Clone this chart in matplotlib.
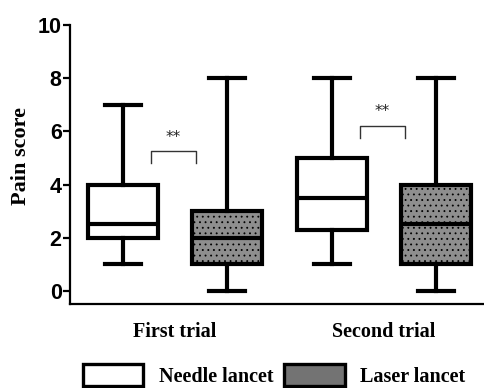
import matplotlib
matplotlib.use("Agg")
import matplotlib.pyplot as plt
from matplotlib.patches import Patch

# Data (box statistics)
groups = ["First trial", "Second trial"]
series = ["Needle lancet", "Laser lancet"]
whislo = [1, 0, 1, 0]
q1 = [2, 1, 2.3, 1]
med = [2.5, 2, 3.5, 2.5]
q3 = [4, 3, 5, 4]
whishi = [7, 8, 8, 8]
positions = [1, 2, 3, 4]
sig_pairs = [(1, 2), (3, 4)]
sig_levels = [5.25, 6.2]
sig_text = ["**", "**"]
yticks = [0, 2, 4, 6, 8, 10]

plt.rcParams['hatch.linewidth'] = 0.6

fig = plt.figure(figsize=(4.85, 3.88), dpi=100)
ax = fig.add_axes([70/485, (388-304)/388, 415/485, (304-25)/388])

stats = []
for i in range(4):
    stats.append(dict(whislo=whislo[i], q1=q1[i], med=med[i], q3=q3[i], whishi=whishi[i], fliers=[]))

lw = 3.0
bp = ax.bxp(stats, positions=positions, widths=0.67, showfliers=False, patch_artist=True,
            boxprops=dict(linewidth=lw, edgecolor='black'),
            medianprops=dict(linewidth=lw, color='black'),
            whiskerprops=dict(linewidth=lw, color='black'),
            capprops=dict(linewidth=lw, color='black'),
            capwidths=0.345)
for i, b in enumerate(bp['boxes']):
    if i % 2 == 0:
        b.set_facecolor('white')
    else:
        b.set_facecolor('#8e8e8e')
        b.set_hatch('...')
        b.set_edgecolor('black')

# significance brackets
for (a, b), lvl, t in zip(sig_pairs, sig_levels, sig_text):
    x0 = a + 0.27
    x1 = b - 0.3
    ax.plot([x0, x0, x1, x1], [lvl - 0.45, lvl, lvl, lvl - 0.45], color='#333333', lw=1.0)
    ax.text((x0 + x1) / 2, lvl + 0.25, t, ha='center', va='bottom', fontsize=11, color='#222222')

ax.set_xlim(0.492, 4.47)
ax.set_ylim(-0.49, 10)
ax.set_yticks(yticks)
ax.set_yticklabels([str(v) for v in yticks], fontfamily='Liberation Sans', fontweight='bold', fontsize=15.5)
ax.spines['top'].set_visible(False)
ax.spines['right'].set_visible(False)
ax.spines['left'].set_linewidth(1.6)
ax.spines['bottom'].set_linewidth(1.6)
ax.spines['left'].set_bounds(-0.49, 10)
ax.tick_params(axis='y', direction='out', length=5, width=1.6, pad=1)
ax.tick_params(axis='x', length=0)
ax.set_xticks([1.5, 3.5])
ax.set_xticklabels(groups, fontfamily='Liberation Serif', fontweight='bold', fontsize=14.5)
ax.tick_params(axis='x', pad=13)
ax.set_ylabel("Pain score", fontfamily='Liberation Serif', fontweight='bold', fontsize=16,
              va='center', ha='center')
ax.yaxis.set_label_coords(-0.118, 0.53)

handles = [Patch(facecolor='white', edgecolor='black', linewidth=2.4),
           Patch(facecolor='#737373', edgecolor='black', linewidth=2.4)]
leg = fig.legend(handles, series, loc='upper left', bbox_to_anchor=(83/485, 0.062),
                 ncol=2, frameon=False, borderpad=0, borderaxespad=0,
                 handlelength=3.0, handleheight=1.3, handletextpad=0.75, columnspacing=0.55,
                 prop=dict(family='Liberation Serif', weight='bold', size=14.5))

fig.savefig("out.png", dpi=100)
